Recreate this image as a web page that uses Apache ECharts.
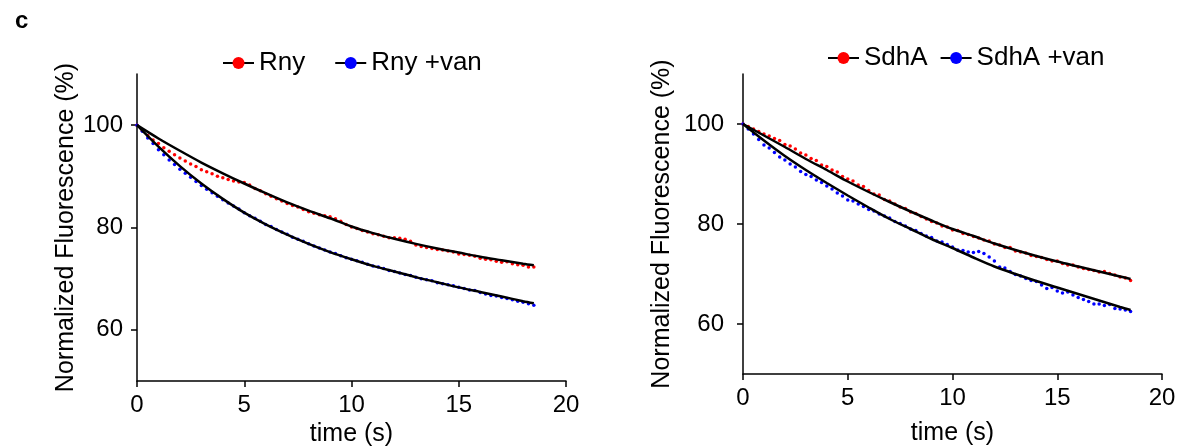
<!DOCTYPE html>
<html lang="en">
<head>
<meta charset="UTF-8" />
<title>Fluorescence decay</title>
<script src="https://cdn.jsdelivr.net/npm/echarts@6/dist/echarts.min.js"></script>
<style>html,body{margin:0;padding:0;background:#fff;}</style>
</head>
<body>
<div id="main" style="width:1189px;height:447px;"></div>
<script type="text/javascript">
// sample times (s)
var sampleTime = [
  0, 0.25, 0.5, 0.75, 1, 1.25, 1.5, 1.75, 2, 2.25, 2.5, 2.75, 3, 3.25, 3.5, 3.75,
  4, 4.25, 4.5, 4.75, 5, 5.25, 5.5, 5.75, 6, 6.25, 6.5, 6.75, 7, 7.25, 7.5, 7.75,
  8, 8.25, 8.5, 8.75, 9, 9.25, 9.5, 9.75, 10, 10.25, 10.5, 10.75, 11, 11.25, 11.5, 11.75,
  12, 12.25, 12.5, 12.75, 13, 13.25, 13.5, 13.75, 14, 14.25, 14.5, 14.75, 15, 15.25, 15.5, 15.75,
  16, 16.25, 16.5, 16.75, 17, 17.25, 17.5, 17.75, 18, 18.25, 18.5
];
// measured points, normalized fluorescence (%)
var rny = [
  100.0, 98.9, 98.0, 97.1, 96.4, 95.6, 94.9, 94.2,
  93.6, 93.0, 92.4, 91.9, 91.3, 90.9, 90.5, 90.0,
  89.7, 89.4, 89.1, 88.9, 88.8, 88.3, 87.6, 87.2,
  86.6, 86.1, 85.6, 85.2, 84.7, 84.3, 84.0, 83.5,
  83.1, 82.8, 82.5, 82.3, 82.1, 81.7, 81.2, 80.6,
  80.1, 79.8, 79.4, 79.1, 78.8, 78.6, 78.3, 78.0,
  78.0, 77.9, 77.7, 77.3, 76.6, 76.3, 76.1, 75.9,
  75.7, 75.6, 75.4, 75.2, 74.8, 74.7, 74.6, 74.4,
  74.0, 73.8, 73.7, 73.4, 73.2, 73.3, 72.9, 72.7,
  72.6, 72.3, 72.3
];
var rnyVan = [
  100.0, 98.8, 97.5, 96.4, 95.2, 94.2, 93.2, 92.3,
  91.4, 90.6, 89.8, 89.0, 88.2, 87.5, 86.8, 86.1,
  85.4, 84.8, 84.2, 83.6, 82.9, 82.3, 81.8, 81.2,
  80.6, 80.2, 79.6, 79.1, 78.7, 78.1, 77.7, 77.3,
  76.8, 76.4, 76.0, 75.6, 75.2, 74.9, 74.5, 74.1,
  73.8, 73.5, 73.2, 72.8, 72.5, 72.3, 72.0, 71.6,
  71.4, 71.1, 70.8, 70.6, 70.3, 70.0, 69.8, 69.6,
  69.2, 69.0, 68.8, 68.6, 68.3, 68.1, 67.8, 67.7,
  67.3, 67.0, 66.7, 66.6, 66.3, 66.1, 65.9, 65.6,
  65.4, 65.1, 64.8
];
var sdha = [
  100.0, 99.5, 99.0, 98.5, 98.0, 97.6, 97.1, 96.7,
  95.9, 95.6, 95.0, 94.2, 93.8, 93.1, 92.7, 91.8,
  91.5, 90.8, 90.4, 89.5, 89.0, 88.6, 87.8, 87.5,
  86.7, 86.0, 85.8, 84.9, 84.6, 84.0, 83.4, 83.1,
  82.4, 82.1, 81.5, 81.0, 80.5, 80.2, 79.6, 79.4,
  78.8, 78.7, 78.1, 77.9, 77.5, 77.2, 76.8, 76.6,
  76.0, 75.8, 75.3, 75.3, 74.6, 74.4, 74.2, 73.7,
  73.5, 73.3, 72.9, 72.6, 72.6, 72.1, 71.8, 71.8,
  71.4, 71.1, 70.9, 70.7, 70.4, 70.5, 70.1, 69.8,
  69.4, 69.2, 68.7
];
var sdhaVan = [
  100.0, 99.0, 98.0, 96.9, 95.8, 95.2, 94.3, 93.4,
  92.8, 92.0, 91.4, 90.5, 89.9, 89.5, 88.8, 88.3,
  87.6, 87.0, 86.2, 85.6, 84.8, 84.6, 84.0, 83.5,
  82.9, 82.6, 82.0, 81.6, 81.2, 80.5, 80.1, 79.6,
  79.0, 78.7, 78.1, 77.6, 77.3, 76.6, 76.4, 75.9,
  75.4, 74.8, 74.7, 74.4, 74.3, 74.5, 74.1, 73.4,
  72.6, 71.4, 71.2, 70.5, 69.9, 69.6, 69.1, 68.7,
  68.5, 67.8, 67.1, 67.3, 66.6, 66.2, 66.4, 65.8,
  65.3, 64.9, 64.5, 64.0, 64.0, 63.7, 63.9, 63.1,
  63.0, 62.8, 62.5
];
// fitted curves (black lines)
var fitTime = [0, 1, 2, 3, 4, 5, 6, 7, 8, 9, 10, 11, 12, 13, 14, 15, 16, 17, 18, 18.5];
var rnyFit     = [100, 97.4, 95.0, 92.7, 90.6, 88.6, 86.7, 84.9, 83.3, 81.8, 80.2, 78.9, 77.8, 76.8, 75.9, 75.1, 74.3, 73.6, 72.9, 72.6];
var rnyVanFit  = [100, 95.8, 92.0, 88.6, 85.6, 82.9, 80.6, 78.6, 76.8, 75.2, 73.8, 72.5, 71.4, 70.3, 69.3, 68.3, 67.4, 66.5, 65.6, 65.2];
var sdhaFit    = [100, 97.7, 95.4, 93.0, 90.8, 88.5, 86.4, 84.4, 82.5, 80.7, 79.0, 77.6, 76.1, 74.8, 73.6, 72.5, 71.5, 70.5, 69.5, 69.0];
var sdhaVanFit = [100, 96.7, 93.6, 90.8, 88.2, 85.7, 83.3, 81.0, 79.0, 77.0, 75.2, 73.3, 71.5, 70.0, 68.6, 67.3, 66.0, 64.7, 63.4, 62.8];

var yTicks = [60, 80, 100];

var FONT = 'Liberation Sans';

function pairs(xs, ys) {
    return ys.map(function (v, i) { return [xs[i], v]; });
}

function dots(name, data, color, idx) {
    return {
        name: name, type: 'line', xAxisIndex: idx, yAxisIndex: idx,
        data: pairs(sampleTime, data),
        symbol: 'circle', symbolSize: 3.5, showSymbol: true,
        lineStyle: { width: 0, opacity: 0 },
        itemStyle: { color: color },
        z: 2
    };
}

function fit(name, data, idx) {
    return {
        name: name, type: 'line', xAxisIndex: idx, yAxisIndex: idx,
        data: pairs(fitTime, data),
        smooth: 0.3, symbol: 'none',
        lineStyle: { color: '#000', width: 2.5 },
        z: 3
    };
}

function xAxis(idx, labelMargin, gap) {
    return {
        type: 'value', gridIndex: idx, min: 0, max: 20, interval: 5,
        name: 'time (s)', nameLocation: 'middle', nameGap: gap,
        nameTextStyle: { fontFamily: FONT, fontSize: 25, color: '#000' },
        axisLine: { lineStyle: { color: '#000', width: 1.5 } },
        axisTick: { length: 6, lineStyle: { color: '#000', width: 1.5 } },
        axisLabel: { margin: labelMargin, fontFamily: FONT, fontSize: 24, color: '#000' },
        splitLine: { show: false }
    };
}

function yAxis(idx, gap, labelMargin) {
    return {
        type: 'value', gridIndex: idx, min: 50, max: 110,
        name: 'Normalized Fluorescence (%)', nameLocation: 'middle', nameGap: gap,
        nameTextStyle: { fontFamily: FONT, fontSize: 25, color: '#000' },
        axisLine: { show: true, lineStyle: { color: '#000', width: 1.5 } },
        axisTick: { show: true, length: 6, customValues: yTicks, lineStyle: { color: '#000', width: 1.5 } },
        axisLabel: { margin: labelMargin, customValues: yTicks, fontFamily: FONT, fontSize: 24, color: '#000' },
        splitLine: { show: false }
    };
}

function legend(names, left, top, gap) {
    return {
        data: names, left: left, top: top, padding: 0,
        itemWidth: 31, itemHeight: 15, itemGap: gap,
        selectedMode: false,
        textStyle: { fontFamily: FONT, fontSize: 26, color: '#000' },
        lineStyle: { color: '#000', width: 2, opacity: 1 }
    };
}

var myChart = echarts.init(document.getElementById('main'));
var option = {
    animation: false,
    title: { text: 'c', left: 10, top: 4, textStyle: { fontFamily: FONT, fontSize: 24, fontWeight: 'bold', color: '#000' } },
    legend: [
        legend(['Rny', 'Rny +van'], 222, 50, 29),
        legend(['SdhA', 'SdhA +van'], 827, 45, 12)
    ],
    grid: [
        { left: 137, top: 74, width: 429, height: 307, outerBoundsMode: 'none' },
        { left: 743, top: 74, width: 419, height: 300, outerBoundsMode: 'none' }
    ],
    xAxis: [xAxis(0, 12, 40), xAxis(1, 12, 47)],
    yAxis: [yAxis(0, 57, 14), yAxis(1, 68, 19)],
    series: [
        dots('Rny', rny, '#ff0000', 0),
        dots('Rny +van', rnyVan, '#0000ff', 0),
        fit('Rny fit', rnyFit, 0),
        fit('Rny +van fit', rnyVanFit, 0),
        dots('SdhA', sdha, '#ff0000', 1),
        dots('SdhA +van', sdhaVan, '#0000ff', 1),
        fit('SdhA fit', sdhaFit, 1),
        fit('SdhA +van fit', sdhaVanFit, 1)
    ]
};
myChart.setOption(option);
window.addEventListener('resize', function () { myChart.resize(); });
</script>
</body>
</html>
